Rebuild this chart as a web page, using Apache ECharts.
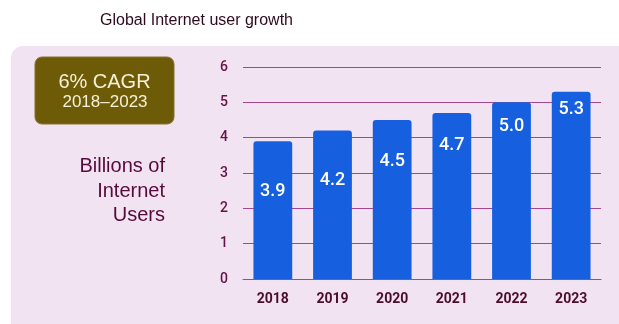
<!DOCTYPE html>
<html>
<head>
<meta charset="utf-8">
<script src="https://cdn.jsdelivr.net/npm/echarts@6/dist/echarts.min.js"></script>
<style>
  html, body { margin: 0; padding: 0; background: #ffffff; }
  #chart { width: 619px; height: 324px; }
</style>
</head>
<body>
<div id="chart"></div>
<script>
// Internet users worldwide, billions
const years = ['2018', '2019', '2020', '2021', '2022', '2023'];
const users = [3.9, 4.2, 4.5, 4.7, 5.0, 5.3];
const yTicks = [0, 1, 2, 3, 4, 5, 6];

const titleText = 'Global Internet user growth';
const cagrText = '6% CAGR';
const cagrRange = '2018\u20132023';
const axisName = ['Billions of', 'Internet', 'Users'];

// extra downward shift of each value label inside its bar (px)
const labelDrop = [36, 36, 27, 19, 10, 4];

const chart = echarts.init(document.getElementById('chart'), null, { renderer: 'canvas' });

const option = {
  backgroundColor: '#ffffff',
  animation: false,
  graphic: [
    {
      type: 'rect', z: -10,
      shape: { x: 11, y: 46, width: 640, height: 300, r: [12, 0, 0, 0] },
      style: { fill: '#f2e3f2' }
    },
    {
      type: 'text', left: 100, top: 13,
      style: { text: titleText, font: '16px "Liberation Sans", Arial, sans-serif', fill: '#2e0a1c' }
    },
    {
      type: 'rect',
      shape: { x: 35, y: 57, width: 139, height: 67, r: 7 },
      style: { fill: '#6e5b07', stroke: '#857330', lineWidth: 1 }
    },
    {
      type: 'text', x: 104.5, y: 82,
      style: { text: cagrText, font: '20px "Liberation Sans", Arial, sans-serif', fill: '#f6f0d8', align: 'center', verticalAlign: 'middle' }
    },
    {
      type: 'text', x: 105, y: 102,
      style: { text: cagrRange, font: '17px "Liberation Sans", Arial, sans-serif', fill: '#f6f0d8', align: 'center', verticalAlign: 'middle' }
    },
    {
      type: 'text', x: 165, y: 166,
      style: { text: axisName[0], font: '20px "Liberation Sans", Arial, sans-serif', fill: '#560a3a', align: 'right', verticalAlign: 'middle' }
    },
    {
      type: 'text', x: 165, y: 191,
      style: { text: axisName[1], font: '20px "Liberation Sans", Arial, sans-serif', fill: '#560a3a', align: 'right', verticalAlign: 'middle' }
    },
    {
      type: 'text', x: 165, y: 215,
      style: { text: axisName[2], font: '20px "Liberation Sans", Arial, sans-serif', fill: '#560a3a', align: 'right', verticalAlign: 'middle' }
    }
  ],
  grid: { left: 243, right: 18, top: 67, bottom: 45, containLabel: false },
  xAxis: {
    type: 'category',
    data: years,
    axisLine: { show: true, lineStyle: { color: '#a4488c', width: 1 } },
    axisTick: { show: false },
    axisLabel: {
      color: '#4b0d2d', fontSize: 14, fontWeight: 'bold', margin: 13,
      fontFamily: 'Roboto, "Liberation Sans", sans-serif'
    }
  },
  yAxis: {
    type: 'value',
    min: yTicks[0],
    max: yTicks[yTicks.length - 1],
    interval: 1,
    axisLine: { show: false },
    axisTick: { show: false },
    axisLabel: {
      color: '#641248', fontSize: 14, fontWeight: 500, margin: 15,
      fontFamily: 'Roboto, "Liberation Sans", sans-serif'
    },
    splitLine: { lineStyle: { color: '#a4488c', width: 1 } }
  },
  series: [{
    type: 'bar',
    barWidth: '65%',
    data: users.map((v, i) => ({
      value: v,
      label: { offset: [0, labelDrop[i]] }
    })),
    itemStyle: { color: '#1660e0', borderRadius: [3, 3, 0, 0] },
    label: {
      show: true,
      position: 'insideTop',
      distance: 5,
      color: '#ffffff',
      fontSize: 18,
      fontWeight: 500,
      fontFamily: 'Roboto, "Liberation Sans", sans-serif',
      formatter: p => p.value.toFixed(1)
    }
  }]
};

chart.setOption(option);
</script>
</body>
</html>
